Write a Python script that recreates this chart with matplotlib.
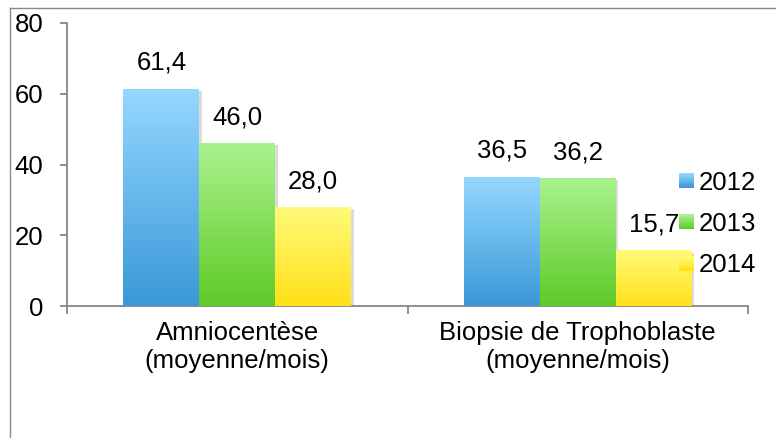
import numpy as np
import matplotlib
matplotlib.use("Agg")
import matplotlib.pyplot as plt
import matplotlib.patheffects as pe
from matplotlib.colors import LinearSegmentedColormap
from matplotlib.patches import Rectangle
from matplotlib.legend_handler import HandlerBase
from matplotlib.lines import Line2D

categories = ["Amniocentèse\n(moyenne/mois)", "Biopsie de Trophoblaste\n(moyenne/mois)"]
years = ["2012", "2013", "2014"]
values_2012 = [61.4, 36.5]
values_2013 = [46.0, 36.2]
values_2014 = [28.0, 15.7]
series = [values_2012, values_2013, values_2014]
yticks = [0, 20, 40, 60, 80]

# (top colour, bottom colour) for each series gradient
grad_colors = [("#95D8FF", "#3A98D8"), ("#AAF28E", "#5ECB28"), ("#FFFA7A", "#FFE018")]

plt.rcParams['font.family'] = ['Liberation Sans', 'DejaVu Sans']
FS = 18.5

fig = plt.figure(figsize=(7.76, 4.38), dpi=100)
ax = fig.add_axes([67/776, 1-306/438, (748-67)/776, (306-23)/438])

x = np.arange(len(categories))
w = 0.223
offsets = [-w, 0, w]
grad = np.linspace(1, 0, 256).reshape(-1, 1)

for i, (vals, (ctop, cbot)) in enumerate(zip(series, grad_colors)):
    cmap = LinearSegmentedColormap.from_list(f"g{i}", [cbot, ctop])
    bars = ax.bar(x + offsets[i], vals, width=w, color="none", edgecolor="none",
                  label=years[i], zorder=2)
    for b, v in zip(bars, vals):
        bx, by = b.get_x(), b.get_y()
        bw, bh = b.get_width(), b.get_height()
        shadow = Rectangle((bx, by), bw, bh, facecolor="white", edgecolor="none",
                           zorder=1,
                           path_effects=[pe.SimplePatchShadow(offset=(2, -1.5), shadow_rgbFace="#b0b0b0", alpha=0.45)])
        ax.add_patch(shadow)
        im = ax.imshow(grad, extent=[bx, bx + bw, by, by + bh], cmap=cmap,
                       aspect="auto", zorder=3, vmin=0, vmax=1, interpolation="bilinear")
        im.set_clip_path(b)
        ax.annotate(f"{v:.1f}".replace(".", ","), (bx + bw/2, by + bh),
                    xytext=(0, 10), textcoords="offset points",
                    ha="center", va="bottom", fontsize=FS, zorder=5)

ax.set_xlim(-0.5, len(categories) - 0.5)
ax.set_ylim(0, 80)
ax.set_yticks(yticks)
ax.set_yticklabels([str(t) for t in yticks], fontsize=FS)
ax.set_xticks(x)
ax.set_xticklabels(categories, fontsize=FS, linespacing=1.2)
ax.set_xticks(np.arange(-0.5, len(categories)), minor=True)
ax.tick_params(axis="x", which="major", length=0, pad=11)
ax.tick_params(axis="x", which="minor", length=6, width=1.3, color="#868686", direction="out")
ax.tick_params(axis="y", length=5, width=1.3, color="#868686", direction="out", pad=12)

for s in ["top", "right"]:
    ax.spines[s].set_visible(False)
for s in ["left", "bottom"]:
    ax.spines[s].set_color("#868686")
    ax.spines[s].set_linewidth(1.3)


class GradHandler(HandlerBase):
    def __init__(self, ctop, cbot):
        super().__init__()
        self.ctop, self.cbot = ctop, cbot

    def create_artists(self, legend, orig_handle, xdescent, ydescent, width, height, fontsize, trans):
        cmap = LinearSegmentedColormap.from_list("h", [self.cbot, self.ctop])
        n = 12
        arts = []
        size = min(width, height * 1.0)
        y0 = -ydescent + (height - size) / 2
        for k in range(n):
            r = Rectangle((-xdescent, y0 + size * k / n), size, size / n + 0.3,
                          facecolor=cmap(k / (n - 1)), edgecolor="none", transform=trans)
            arts.append(r)
        return arts


handles = [Rectangle((0, 0), 1, 1) for _ in years]
hmap = {h: GradHandler(ct, cb) for h, (ct, cb) in zip(handles, grad_colors)}
leg = fig.legend(handles, years, handler_map=hmap, loc="center left",
                 bbox_to_anchor=(679/776, 1-224/438), frameon=False, fontsize=FS,
                 borderpad=0, borderaxespad=0, handlelength=0.58, handleheight=0.58,
                 handletextpad=0.2, labelspacing=0.68)

# outer frame (top and left edges visible)
fig.add_artist(Line2D([10/776, 1], [1-8/438, 1-8/438], transform=fig.transFigure,
                      color="#8a8a8a", linewidth=1.0))
fig.add_artist(Line2D([10/776, 10/776], [0, 1-8/438], transform=fig.transFigure,
                      color="#8a8a8a", linewidth=1.0))

fig.savefig("out.png", dpi=100)
